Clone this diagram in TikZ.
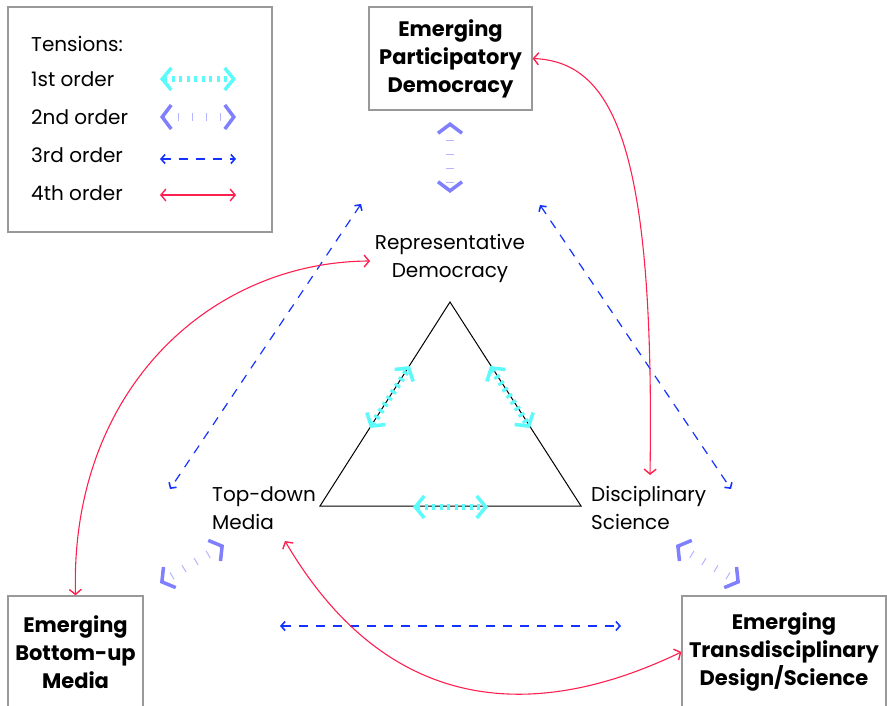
\documentclass[tikz,border=0pt]{standalone}
\usepackage{fontspec}
\setmainfont{Poppins}
\usetikzlibrary{arrows.meta}
\definecolor{cyanT}{HTML}{5CFAFA}
\definecolor{periT}{HTML}{8080FF}
\definecolor{periL}{HTML}{B4B4FF}
\definecolor{blueT}{HTML}{1533FF}
\definecolor{redT}{HTML}{FF2050}
\definecolor{boxgray}{HTML}{999999}
\tikzset{
  firstT/.style={draw=cyanT, line width=6.5pt, dash pattern=on 3pt off 4.5pt,
    {Straight Barb[length=9pt,width=22pt,line width=3.5pt,color=cyanT]}-{Straight Barb[length=9pt,width=22pt,line width=3.5pt,color=cyanT]}},
  secondT/.style={draw=periL, line width=8pt, dash pattern=on 1pt off 13pt,
    {Straight Barb[length=9pt,width=24pt,line width=3.5pt,color=periT]}-{Straight Barb[length=9pt,width=24pt,line width=3.5pt,color=periT]}},
  thirdT/.style={draw=blueT, line width=1.2pt, dash pattern=on 9pt off 8pt,
    {Straight Barb[length=4pt,width=9pt,line width=1.6pt]}-{Straight Barb[length=4pt,width=9pt,line width=1.6pt]}},
  fourthT/.style={draw=redT, line width=1.1pt,
    {Straight Barb[length=5pt,width=12pt,line width=1.4pt]}-{Straight Barb[length=5pt,width=12pt,line width=1.4pt]}},
  ebox/.style={draw=boxgray, line width=1.3pt, align=center, font=\fontsize{21}{28}\selectfont\bfseries, inner sep=0pt},
  lbl/.style={align=left, font=\fontsize{20}{28}\selectfont, inner sep=0pt},
  leg/.style={anchor=west, font=\fontsize{20}{24}\selectfont, inner sep=0pt},
}
\begin{document}
\begin{tikzpicture}[x=1pt,y=-1pt]
\useasboundingbox (0,0) rectangle (887,706);
% legend
\node[draw=boxgray, line width=1.3pt, minimum width=264pt, minimum height=225pt, inner sep=0pt] (legend) at (140,119.5) {};
\node[leg] (lt) at (31,44) {Tensions:};
\node[leg] (l1) at (31,79) {1st order};
\node[leg] (l2) at (31,117) {2nd order};
\node[leg] (l3) at (31,155) {3rd order};
\node[leg] (l4) at (31,193) {4th order};
\coordinate (l1a) at (160,79); \coordinate (l1b) at (236,79);
\coordinate (l2a) at (160,117); \coordinate (l2b) at (236,117);
\coordinate (l3a) at (160,159); \coordinate (l3b) at (236,159);
\coordinate (l4a) at (160,195); \coordinate (l4b) at (236,195);
\draw[firstT] (l1a) -- (l1b);
\draw[secondT] (l2a) -- (l2b);
\draw[thirdT] (l3a) -- (l3b);
\draw[fourthT] (l4a) -- (l4b);
% boxes
\node[ebox, minimum width=163pt, minimum height=103pt] (pd) at (450.5,58.5) {Emerging\\Participatory\\Democracy};
\node[ebox, minimum width=135pt, minimum height=112pt] (bu) at (75.5,652) {Emerging\\Bottom-up\\Media};
\node[ebox, minimum width=204pt, minimum height=112pt] (td2) at (784,652) {Emerging\\Transdisciplinary\\Design/Science};
% triangle
\coordinate (A) at (450,302);
\coordinate (B) at (320,506);
\coordinate (C) at (581,506);
\draw[line width=1pt] (A) -- (B) -- (C) -- cycle;
% labels
\node[lbl, align=center] (rd) at (450,258) {Representative\\Democracy};
\node[lbl, anchor=west] (td) at (212,508) {Top-down\\Media};
\node[lbl, anchor=west] (ds) at (591,508) {Disciplinary\\Science};
% first order
\coordinate (f1a) at (370,428); \coordinate (f1b) at (410,366);
\coordinate (f2a) at (490,366); \coordinate (f2b) at (530,428);
\coordinate (f3a) at (413,507); \coordinate (f3b) at (488,507);
\draw[firstT] (f1a) -- (f1b);
\draw[firstT] (f2a) -- (f2b);
\draw[firstT] (f3a) -- (f3b);
% second order
\coordinate (s1a) at (450,122); \coordinate (s1b) at (450,193);
\coordinate (s2a) at (224,545); \coordinate (s2b) at (160,583);
\coordinate (s3a) at (676,545); \coordinate (s3b) at (740,583);
\draw[secondT] (s1a) -- (s1b);
\draw[secondT] (s2a) -- (s2b);
\draw[secondT] (s3a) -- (s3b);
% third order
\coordinate (t1a) at (361,204); \coordinate (t1b) at (170,489);
\coordinate (t2a) at (540,205); \coordinate (t2b) at (731,489);
\coordinate (t3a) at (280,626); \coordinate (t3b) at (621,626);
\draw[thirdT] (t1a) -- (t1b);
\draw[thirdT] (t2a) -- (t2b);
\draw[thirdT] (t3a) -- (t3b);
% fourth order
\coordinate (r1) at (370,261);
\coordinate (r2) at (650,475);
\coordinate (r3) at (285,541);
\draw[fourthT] (pd.east) .. controls (615,62) and (655,150) .. (r2);
\draw[fourthT] (bu.north) .. controls (70,390) and (210,262) .. (r1);
\draw[fourthT] (r3) .. controls (390,720) and (540,720) .. (td2.west);
\end{tikzpicture}
\end{document}
